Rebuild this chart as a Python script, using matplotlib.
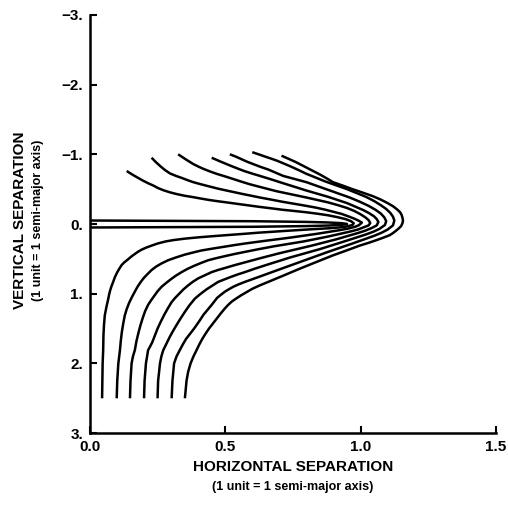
import matplotlib
matplotlib.use("Agg")
import matplotlib.pyplot as plt

# ---- data (x = horizontal, y = vertical separation) ----
hairpin_x = [0.0, 0.3, 0.6, 0.8, 0.88, 0.93, 0.95, 0.93, 0.88, 0.8, 0.6, 0.3, 0.0]
hairpin_y = [-0.05, -0.045, -0.04, -0.03, -0.022, -0.012, 0.0, 0.012, 0.022, 0.03, 0.04, 0.045, 0.05]

c1_x = [0.136, 0.150, 0.165, 0.181, 0.197, 0.215, 0.235, 0.252, 0.271, 0.295, 0.32, 0.35, 0.382, 0.41, 0.44, 0.47,
        0.505, 0.565, 0.628, 0.67, 0.71, 0.755, 0.80, 0.84, 0.88, 0.915, 0.945, 0.965, 0.975,
        0.97, 0.95, 0.92, 0.88, 0.83, 0.78, 0.73, 0.68, 0.625, 0.573, 0.515, 0.46, 0.405, 0.351, 0.31, 0.28, 0.25,
        0.228, 0.207, 0.19, 0.177, 0.166, 0.152, 0.14, 0.127, 0.117, 0.108, 0.10, 0.092, 0.086, 0.080, 0.075, 0.071,
        0.068, 0.061, 0.055, 0.052, 0.05, 0.049, 0.047, 0.046, 0.045]
c1_y = [-0.76, -0.725, -0.69, -0.655, -0.62, -0.585, -0.55, -0.515, -0.485, -0.455, -0.43, -0.405, -0.385, -0.365, -0.345, -0.328,
        -0.31, -0.278, -0.245, -0.225, -0.205, -0.187, -0.168, -0.148, -0.125, -0.098, -0.07, -0.04, -0.01,
        0.015, 0.035, 0.05, 0.062, 0.073, 0.085, 0.097, 0.11, 0.124, 0.14, 0.157, 0.173, 0.19, 0.21, 0.23, 0.25, 0.28,
        0.31, 0.34, 0.37, 0.40, 0.43, 0.47, 0.51, 0.55, 0.59, 0.645, 0.70, 0.765, 0.83, 0.89, 0.95, 1.01,
        1.07, 1.19, 1.31, 1.45, 1.6, 1.81, 2.0, 2.25, 2.5]

c2_x = [0.228, 0.243, 0.26, 0.277, 0.296, 0.318, 0.34, 0.36, 0.382, 0.41, 0.44, 0.47, 0.505, 0.535, 0.565, 0.597,
        0.628, 0.67, 0.71, 0.755, 0.80, 0.835, 0.87, 0.90, 0.93, 0.955, 0.975, 0.992, 1.005,
        0.995, 0.98, 0.955, 0.92, 0.88, 0.84, 0.795, 0.75, 0.705, 0.66, 0.615, 0.573, 0.53, 0.49, 0.45, 0.412, 0.38,
        0.35, 0.318, 0.289, 0.265, 0.245, 0.228, 0.215, 0.2, 0.188, 0.176, 0.166, 0.155, 0.145, 0.136, 0.129, 0.123,
        0.118, 0.114, 0.111, 0.105, 0.101, 0.099]
c2_y = [-0.95, -0.89, -0.83, -0.775, -0.725, -0.69, -0.66, -0.63, -0.60, -0.57, -0.54, -0.51, -0.48, -0.455, -0.43, -0.405,
        -0.38, -0.35, -0.32, -0.29, -0.26, -0.235, -0.205, -0.175, -0.145, -0.11, -0.08, -0.05, -0.02,
        0.015, 0.04, 0.065, 0.09, 0.115, 0.14, 0.165, 0.19, 0.213, 0.235, 0.258, 0.28, 0.305, 0.33, 0.355, 0.38, 0.41,
        0.44, 0.48, 0.52, 0.565, 0.61, 0.66, 0.71, 0.77, 0.83, 0.90, 0.97, 1.05, 1.13, 1.22, 1.31, 1.43,
        1.55, 1.68, 1.81, 2.0, 2.25, 2.5]

c3_x = [0.326, 0.353, 0.382, 0.40, 0.42, 0.443, 0.468, 0.50, 0.53, 0.56, 0.591, 0.64, 0.69, 0.745, 0.80, 0.84,
        0.88, 0.915, 0.95, 0.977, 1.0, 1.018, 1.03, 1.036,
        1.03, 1.01, 0.99, 0.96, 0.92, 0.88, 0.835, 0.79, 0.735, 0.68, 0.625, 0.573, 0.535, 0.50, 0.467, 0.437, 0.41,
        0.385, 0.36, 0.339, 0.318, 0.30, 0.282, 0.265, 0.25, 0.238, 0.226, 0.215, 0.204, 0.195, 0.187, 0.18, 0.172,
        0.166, 0.159, 0.154, 0.15, 0.148]
c3_y = [-1.0, -0.93, -0.86, -0.825, -0.79, -0.755, -0.72, -0.682, -0.645, -0.607, -0.57, -0.52, -0.47, -0.425, -0.38, -0.345,
        -0.31, -0.272, -0.23, -0.187, -0.14, -0.095, -0.055, -0.015,
        0.02, 0.05, 0.08, 0.11, 0.145, 0.18, 0.215, 0.25, 0.285, 0.32, 0.36, 0.40, 0.43, 0.46, 0.49, 0.52, 0.56,
        0.60, 0.645, 0.69, 0.74, 0.79, 0.845, 0.90, 0.965, 1.03, 1.095, 1.16, 1.25, 1.35, 1.45, 1.55, 1.68,
        1.81, 1.9, 2.0, 2.25, 2.5]

c4_x = [0.45, 0.483, 0.517, 0.543, 0.57, 0.598, 0.628, 0.67, 0.71, 0.755, 0.80, 0.84, 0.88, 0.915, 0.95, 0.98,
        1.01, 1.032, 1.05, 1.06, 1.066,
        1.06, 1.04, 1.018, 0.99, 0.95, 0.91, 0.865, 0.82, 0.76, 0.70, 0.635, 0.573, 0.535, 0.50, 0.473, 0.45, 0.425,
        0.40, 0.38, 0.363, 0.345, 0.33, 0.315, 0.302, 0.288, 0.275, 0.262, 0.25, 0.24, 0.23, 0.222, 0.215, 0.207,
        0.202, 0.2]
c4_y = [-0.95, -0.895, -0.84, -0.80, -0.76, -0.725, -0.69, -0.64, -0.59, -0.535, -0.48, -0.435, -0.39, -0.345, -0.30, -0.25,
        -0.20, -0.155, -0.11, -0.07, -0.03,
        0.02, 0.06, 0.095, 0.13, 0.175, 0.22, 0.265, 0.31, 0.365, 0.42, 0.485, 0.55, 0.59, 0.63, 0.66, 0.69, 0.735,
        0.78, 0.83, 0.88, 0.94, 1.0, 1.06, 1.12, 1.21, 1.30, 1.40, 1.50, 1.60, 1.70, 1.76, 1.81, 2.0,
        2.25, 2.5]

c5_x = [0.517, 0.54, 0.56, 0.58, 0.603, 0.63, 0.66, 0.687, 0.714, 0.757, 0.80, 0.84, 0.88, 0.92, 0.96, 0.997,
        1.03, 1.055, 1.075, 1.088, 1.095,
        1.09, 1.07, 1.048, 1.02, 0.98, 0.94, 0.895, 0.85, 0.795, 0.74, 0.695, 0.65, 0.61, 0.573, 0.545, 0.52, 0.497,
        0.474, 0.452, 0.43, 0.408, 0.388, 0.368, 0.351, 0.335, 0.32, 0.307, 0.295, 0.283, 0.271, 0.264, 0.259, 0.252,
        0.25]
c5_y = [-1.0, -0.965, -0.93, -0.895, -0.86, -0.82, -0.78, -0.735, -0.69, -0.645, -0.60, -0.545, -0.49, -0.435, -0.38, -0.32,
        -0.26, -0.205, -0.15, -0.095, -0.04,
        0.015, 0.07, 0.11, 0.15, 0.20, 0.25, 0.305, 0.36, 0.42, 0.48, 0.535, 0.59, 0.64, 0.69, 0.725, 0.76, 0.795,
        0.83, 0.885, 0.94, 1.005, 1.07, 1.165, 1.26, 1.355, 1.45, 1.535, 1.62, 1.715, 1.81, 1.9, 2.0, 2.25,
        2.5]

c6_x = [0.60, 0.623, 0.645, 0.668, 0.69, 0.718, 0.745, 0.773, 0.80, 0.835, 0.87, 0.91, 0.95, 0.985, 1.02, 1.05,
        1.075, 1.095, 1.11, 1.12, 1.125,
        1.12, 1.10, 1.078, 1.05, 1.01, 0.97, 0.925, 0.88, 0.83, 0.78, 0.73, 0.68, 0.627, 0.573, 0.55, 0.53, 0.514,
        0.499, 0.484, 0.47, 0.46, 0.45, 0.435, 0.42, 0.403, 0.385, 0.37, 0.355, 0.343, 0.332, 0.32, 0.311, 0.305,
        0.302]
c6_y = [-1.03, -1.0, -0.97, -0.94, -0.91, -0.865, -0.82, -0.77, -0.72, -0.665, -0.61, -0.555, -0.50, -0.445, -0.39, -0.33,
        -0.27, -0.215, -0.16, -0.105, -0.05,
        0.02, 0.08, 0.125, 0.17, 0.225, 0.28, 0.34, 0.40, 0.47, 0.54, 0.61, 0.68, 0.755, 0.83, 0.865, 0.90, 0.935,
        0.97, 1.015, 1.06, 1.11, 1.16, 1.23, 1.30, 1.40, 1.50, 1.575, 1.65, 1.73, 1.81, 1.9, 2.0, 2.25,
        2.5]

c7_x = [0.708, 0.734, 0.76, 0.78, 0.80, 0.825, 0.85, 0.875, 0.898, 0.935, 0.97, 1.008, 1.045, 1.075, 1.10, 1.12,
        1.135, 1.146, 1.152, 1.155, 1.157, 1.155,
        1.150, 1.141, 1.13, 1.12, 1.108, 1.085, 1.06, 1.03, 0.997, 0.948, 0.898, 0.837, 0.776, 0.715, 0.653, 0.625,
        0.60, 0.58, 0.56, 0.542, 0.525, 0.511, 0.499, 0.484, 0.47, 0.455, 0.44, 0.427, 0.415, 0.404, 0.394, 0.382,
        0.372, 0.363, 0.357, 0.351]
c7_y = [-0.98, -0.935, -0.89, -0.85, -0.81, -0.76, -0.71, -0.655, -0.60, -0.55, -0.50, -0.45, -0.40, -0.35, -0.30, -0.255,
        -0.21, -0.17, -0.13, -0.09, -0.05, -0.01,
        0.03, 0.065, 0.10, 0.13, 0.16, 0.195, 0.23, 0.27, 0.31, 0.38, 0.45, 0.545, 0.64, 0.74, 0.84, 0.885,
        0.93, 0.975, 1.02, 1.065, 1.11, 1.16, 1.21, 1.28, 1.35, 1.425, 1.50, 1.575, 1.65, 1.73, 1.81, 1.905,
        2.0, 2.12, 2.25, 2.5]

curves = [(hairpin_x, hairpin_y), (c1_x, c1_y), (c2_x, c2_y), (c3_x, c3_y),
          (c4_x, c4_y), (c5_x, c5_y), (c6_x, c6_y), (c7_x, c7_y)]

x_ticks = [0.0, 0.5, 1.0, 1.5]
x_tick_labels = ["0.0", "0.5", "1.0", "1.5"]
y_ticks = [-3, -2, -1, 0, 1, 2, 3]
y_tick_labels = ["\u22123.", "\u22122.", "\u22121.", "0.", "1.", "2.", "3."]

plt.rcParams['font.family'] = ['Liberation Sans', 'DejaVu Sans']

fig = plt.figure(figsize=(5.08, 5.12), dpi=100)
ax = fig.add_axes([0.177, 0.154, 0.799, 0.817])

for xs, ys in curves:
    ax.plot(xs, ys, color='black', linewidth=1.8, solid_joinstyle='round', solid_capstyle='butt')

ax.set_xlim(0, 1.5)
ax.set_ylim(3, -3)
for s in ['top', 'right']:
    ax.spines[s].set_visible(False)
for s in ['left', 'bottom']:
    ax.spines[s].set_linewidth(1.8)

ax.set_xticks(x_ticks)
ax.set_xticklabels(x_tick_labels, fontsize=11, fontweight='bold')
ax.set_yticks(y_ticks)
ax.set_yticklabels(y_tick_labels, fontsize=11, fontweight='bold')
ax.tick_params(direction='in', length=5, width=1.5, pad=5)

fig.text(0.577, 0.088, "HORIZONTAL SEPARATION", ha='center', va='center', fontsize=11, fontweight='bold')
fig.text(0.577, 0.048, "(1 unit = 1 semi-major axis)", ha='center', va='center', fontsize=9, fontweight='bold')
fig.text(0.039, 0.57, "VERTICAL SEPARATION", ha='center', va='center', rotation=90, fontsize=11, fontweight='bold')
fig.text(0.075, 0.57, "(1 unit = 1 semi-major axis)", ha='center', va='center', rotation=90, fontsize=9, fontweight='bold')

fig.savefig("out.png", dpi=100)
